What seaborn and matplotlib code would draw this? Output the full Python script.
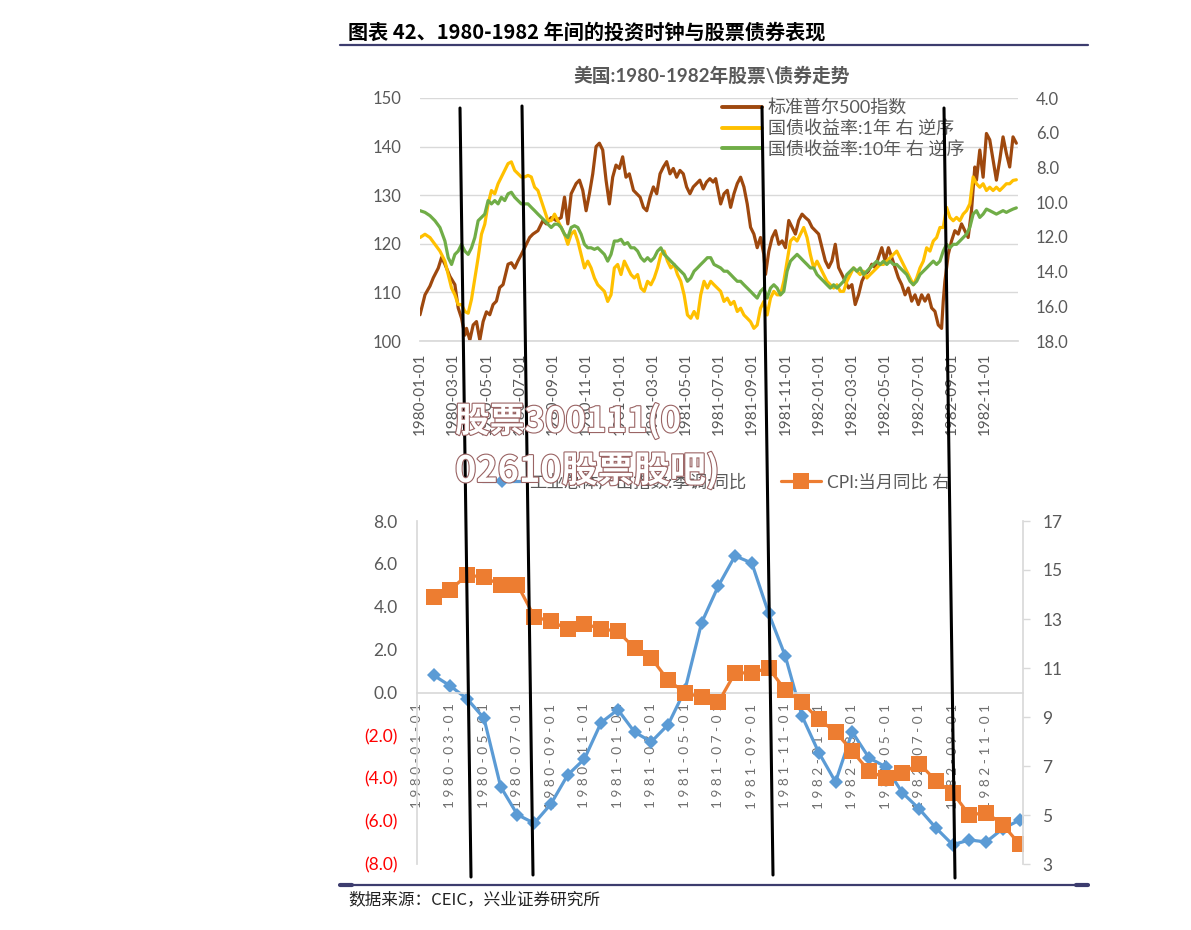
import numpy as np
import pandas as pd
import matplotlib
matplotlib.use("Agg")
import matplotlib.pyplot as plt
import matplotlib.patheffects as pe
from matplotlib.lines import Line2D
import seaborn as sns

# ---------------- data ----------------
date_labels = ["1980-01-01", "1980-03-01", "1980-05-01", "1980-07-01", "1980-09-01", "1980-11-01",
               "1981-01-01", "1981-03-01", "1981-05-01", "1981-07-01", "1981-09-01", "1981-11-01",
               "1982-01-01", "1982-03-01", "1982-05-01", "1982-07-01", "1982-09-01", "1982-11-01"]

# S&P 500 (months since 1980-01-01, index level)
sp_t = [0.0, 0.3, 0.6, 0.8, 1.1, 1.3, 1.5, 1.8, 2.1, 2.3, 2.5, 2.7, 2.8, 3.0, 3.2, 3.4, 3.6, 3.8, 4.0, 4.2,
        4.4, 4.6, 4.8, 5.0, 5.3, 5.5, 5.7, 5.9, 6.1, 6.4, 6.6, 6.8, 7.1, 7.4, 7.6, 7.9, 8.2, 8.5, 8.7, 8.9,
        9.1, 9.4, 9.6, 9.8, 10.0, 10.2, 10.4, 10.6, 10.8, 11.0, 11.2, 11.4, 11.6, 11.8, 12.0, 12.2, 12.4, 12.6, 12.85, 13.05,
        13.25, 13.45, 13.65, 13.85, 14.05, 14.25, 14.45, 14.65, 14.85, 15.05, 15.25, 15.45, 15.65, 15.85, 16.05, 16.25, 16.45, 16.65, 16.85, 17.05,
        17.25, 17.45, 17.65,
        17.8, 18.1, 18.3, 18.5, 18.7, 18.9, 19.1, 19.3, 19.5, 19.7, 19.9, 20.1, 20.3, 20.5, 20.7, 20.8, 21.0, 21.2, 21.4, 21.6,
        21.8, 22.0, 22.2, 22.4, 22.6, 22.8, 23.0, 23.2, 23.4, 23.6, 23.8, 24.0, 24.2, 24.4, 24.6, 24.8, 25.0, 25.2, 25.4, 25.6,
        25.8, 26.0, 26.2, 26.4, 26.6, 26.8, 27.0, 27.2, 27.4, 27.6, 27.8, 28.0, 28.2, 28.4, 28.6, 28.8, 29.0, 29.2, 29.4, 29.6,
        29.8, 30.0, 30.2, 30.4, 30.6, 30.8, 31.0, 31.2, 31.4, 31.5, 31.6, 31.8, 32.0, 32.2, 32.4, 32.6, 32.8, 33.0, 33.2, 33.4,
        33.5, 33.7, 33.9, 34.1, 34.3, 34.5, 34.7, 34.9, 35.1, 35.3, 35.5, 35.7, 35.9]
sp_v = [105.4, 109.5, 111.3, 113.0, 115.0, 117.2, 115.8, 113.3, 111.6, 106.8, 104.7, 101.2, 102.6, 100.2, 103.3, 104.0, 100.2, 104.0, 106.0, 105.4,
        107.5, 108.2, 111.0, 111.6, 115.8, 116.1, 115.0, 116.5, 117.8, 119.9, 121.3, 122.0, 122.7, 124.8, 124.1, 125.4, 124.8, 125.4, 129.6, 124.1,
        130.3, 132.4, 133.1, 131.0, 126.8, 130.3, 134.4, 140.0, 140.7, 139.3, 133.1, 128.2, 133.7, 136.2, 135.5, 137.9, 133.7, 134.4, 131.0, 130.3,
        129.6, 127.5, 126.8, 129.6, 131.7, 130.3, 134.4, 135.8, 136.9, 134.4, 135.5, 133.7, 135.1, 134.4, 131.7, 130.3, 131.7, 132.4, 133.1, 131.3,
        132.7, 133.4, 132.7,
        133.4, 128.2, 130.3, 131.0, 127.5, 130.3, 132.4, 133.7, 131.7, 128.2, 123.4, 122.0, 119.2, 121.3, 117.8, 113.7, 118.5, 121.3, 122.7, 119.9,
        120.6, 119.2, 124.8, 123.4, 122.0, 124.8, 126.1, 125.4, 124.8, 123.4, 122.7, 122.0, 119.2, 116.5, 115.1, 116.5, 119.9, 115.1, 113.7, 112.3,
        110.9, 111.6, 107.5, 109.5, 112.3, 113.7, 114.4, 115.8, 115.1, 117.2, 119.2, 116.5, 119.2, 117.2, 115.1, 113.0, 111.6, 109.5, 110.9, 108.2,
        109.5, 107.5, 109.5, 108.2, 109.5, 106.8, 106.1, 103.3, 102.6, 108.2, 112.3, 117.8, 120.6, 122.7, 122.0, 124.1, 122.7, 121.3, 126.8, 135.8,
        133.1, 139.3, 133.7, 142.7, 141.4, 137.2, 133.1, 137.2, 142.0, 138.6, 135.8, 142.0, 140.7]

# Treasury yields sampling dates (months since 1980-01-01)
yld_t = ([0.0, 0.3, 0.6, 0.9, 1.2, 1.5]
         + [round(1.7 + 0.2 * k, 1) for k in range(81)]
         + [round(18.1 + 0.2 * k, 1) for k in range(90)])
y1_v = [12.04, 11.85, 12.04, 12.43, 12.82, 13.4,
        14.17, 14.95, 15.34, 15.9, 15.9, 16.3, 16.4, 15.6, 14.4, 13.2, 11.85, 11.27, 10.1, 9.33,
        9.52, 8.94, 8.55, 8.17, 7.78, 7.68, 8.17, 8.36, 8.55, 8.55, 8.46, 8.55, 9.14, 9.33, 9.91,
        10.49, 11.07, 11.07, 10.69, 11.07, 11.46, 11.85, 12.43, 11.85, 11.66, 12.24, 13.01, 13.79, 13.4, 13.79,
        14.37, 14.76, 14.95, 15.14, 15.72, 15.34, 13.79, 13.59, 14.17, 13.4, 13.79, 14.17, 14.37, 14.17, 14.95,
        15.14, 14.56, 14.76, 14.37, 13.79, 13.01, 12.82, 13.4, 13.79, 13.59, 14.17, 14.56, 15.34, 16.5, 16.69,
        16.3, 16.69, 15.34, 14.56, 14.95, 14.56, 14.76,
        15.14, 15.72, 15.53, 15.9, 15.72, 16.3, 16.11, 16.5, 16.69, 16.89, 17.27, 17.08, 16.11, 15.72, 16.5,
        15.53, 15.14, 15.34, 15.34, 14.56, 13.4, 12.24, 12.04, 12.24, 11.85, 11.46, 12.04, 13.01, 13.79, 13.4,
        13.79, 14.17, 14.56, 14.76, 14.95, 14.76, 15.14, 15.14, 14.56, 14.17, 13.79, 13.98, 14.17, 13.98, 14.37,
        14.17, 13.98, 13.79, 13.59, 13.59, 13.4, 13.2, 13.01, 12.82, 13.2, 13.59, 13.98, 14.37, 14.76, 14.37,
        13.79, 13.4, 12.63, 12.82, 12.24, 12.04, 11.46, 11.46, 10.3, 10.88, 11.07, 10.88, 11.07, 10.69, 10.49,
        10.1, 8.55, 8.94, 9.14, 8.94, 9.33, 9.14, 9.33, 9.14, 9.33, 9.14, 8.94, 8.94, 8.75, 8.71]
y10_v = [10.49, 10.59, 10.78, 11.07, 11.46, 12.24,
         13.2, 13.59, 13.01, 12.82, 12.43, 12.82, 13.01, 12.63, 12.04, 11.07, 10.88, 10.69, 9.91, 10.1,
         9.91, 10.1, 9.72, 9.91, 9.52, 9.43, 9.72, 9.91, 10.1, 10.1, 10.1, 10.3, 10.49, 10.69, 10.88,
         11.07, 11.27, 11.46, 11.27, 11.27, 11.46, 11.85, 12.04, 11.46, 11.36, 11.46, 11.85, 12.43, 12.63, 12.63,
         12.72, 12.63, 12.82, 13.01, 13.4, 13.01, 12.24, 12.24, 12.14, 12.43, 12.33, 12.63, 12.63, 12.82, 13.2,
         13.4, 13.2, 13.4, 13.2, 12.82, 12.63, 13.01, 13.2, 13.4, 13.59, 13.79, 13.98, 14.17, 14.56, 14.37,
         13.98, 13.79, 13.59, 13.4, 13.2, 13.2, 13.59,
         13.79, 13.98, 13.98, 14.17, 14.37, 14.56, 14.56, 14.76, 14.95, 15.14, 15.34, 15.53, 15.14, 14.95, 15.53,
         14.95, 14.76, 14.95, 15.34, 15.14, 13.98, 13.4, 13.2, 13.01, 13.2, 13.4, 13.59, 13.79, 13.79, 14.17,
         14.37, 14.56, 14.76, 14.95, 14.76, 14.95, 14.76, 14.56, 14.17, 13.98, 13.79, 13.98, 13.79, 14.17, 13.98,
         13.79, 13.59, 13.4, 13.59, 13.4, 13.59, 13.4, 13.59, 13.59, 13.79, 13.98, 14.17, 14.56, 14.76, 14.56,
         14.17, 13.98, 13.79, 13.59, 13.4, 13.59, 13.4, 12.82, 12.43, 12.63, 12.43, 12.43, 12.24, 12.04, 11.85,
         11.46, 10.69, 10.49, 10.88, 10.69, 10.4, 10.49, 10.59, 10.69, 10.59, 10.49, 10.59, 10.49, 10.4, 10.33]

# Monthly macro data 1980-01 .. 1982-12
months = pd.period_range("1980-01", "1982-12", freq="M").astype(str).tolist()
ip_yoy = [0.8, 0.3, -0.3, -1.2, -4.4, -5.7, -6.1, -5.2, -3.85, -3.1, -1.4, -0.8,
          -1.85, -2.3, -1.5, 0.1, 3.25, 4.97, 6.37, 6.04, 3.71, 1.7, -1.1, -2.8,
          -4.17, -1.84, -3.05, -3.47, -4.68, -5.43, -6.32, -7.1, -6.88, -6.97, -6.35, -5.95]
cpi_yoy = [13.9, 14.2, 14.8, 14.7, 14.4, 14.4, 13.1, 12.9, 12.6, 12.8, 12.6, 12.5,
           11.8, 11.4, 10.5, 10.0, 9.8, 9.6, 10.8, 10.8, 11.0, 10.1, 9.6, 8.9,
           8.4, 7.6, 6.8, 6.5, 6.7, 7.1, 6.4, 5.9, 5.0, 5.1, 4.6, 3.8]

# hand-drawn phase divider lines (figure pixels: x_top, y_top, x_bottom, y_bottom)
phase_lines = [(460, 108, 471, 877), (522, 106, 533, 875), (762, 107, 773, 875), (944, 108, 955, 878)]

# ---------------- style ----------------
sns.set_theme(style="white")
plt.rcParams["font.family"] = ["Lato", "Noto Sans CJK SC", "DejaVu Sans"]
plt.rcParams["axes.unicode_minus"] = False

W, H = 1191, 930
fig = plt.figure(figsize=(W / 100, H / 100), dpi=100)
fig.patch.set_facecolor("white")


def fx(px):
    return px / W


def fy(py):
    return 1 - py / H


GRAY = "#595959"
GRID = "#D9D9D9"
NAVY = "#3C3C6E"
C_SP, C_1Y, C_10Y = "#9E480E", "#FFC000", "#70AD47"
C_IP, C_CPI = "#5B9BD5", "#ED7D31"

# header / footer
fig.text(fx(348), fy(32), "图表 42、1980-1982 年间的投资时钟与股票债券表现", fontsize=14.5,
         fontweight="bold", color="black", va="center", ha="left",
         family=["Noto Sans CJK SC", "DejaVu Sans"])
fig.add_artist(Line2D([fx(340), fx(1088)], [fy(45), fy(45)], color=NAVY, lw=1.6,
                      transform=fig.transFigure))
fig.add_artist(Line2D([fx(340), fx(1088)], [fy(885), fy(885)], color=NAVY, lw=1.6,
                      transform=fig.transFigure))
for xa, xb in [(340, 352), (1076, 1088)]:
    fig.add_artist(Line2D([fx(xa), fx(xb)], [fy(885), fy(885)], color=NAVY, lw=3,
                          transform=fig.transFigure))
fig.text(fx(348), fy(900), "数据来源：CEIC，兴业证券研究所", fontsize=12, color="#222222",
         va="center", ha="left", family=["Noto Sans CJK SC", "DejaVu Sans"])

# ---------------- upper chart ----------------
ax1 = fig.add_axes([fx(420), fy(341), fx(1018) - fx(420), fy(98) - fy(341)])
ax1b = ax1.twinx()
sns.lineplot(x=sp_t, y=sp_v, ax=ax1, color=C_SP, lw=2.3, estimator=None, sort=False)
sns.lineplot(x=yld_t, y=y1_v, ax=ax1b, color=C_1Y, lw=2.3, estimator=None, sort=False)
sns.lineplot(x=yld_t, y=y10_v, ax=ax1b, color=C_10Y, lw=2.3, estimator=None, sort=False)

ax1.set_xlim(0, 36)
ax1.set_ylim(100, 150)
ax1b.set_ylim(18, 4)
ax1.set_yticks(range(100, 151, 10))
ax1b.set_yticks(range(4, 19, 2))
ax1b.set_yticklabels([f"{v:.1f}" for v in range(4, 19, 2)])
ax1.set_xticks(range(0, 37, 2))
ax1.set_xticklabels(date_labels + [""], rotation=90)
ax1.yaxis.grid(True, color=GRID, lw=1)
ax1.xaxis.grid(False)
for a in (ax1, ax1b):
    for s in ("top", "left", "right"):
        a.spines[s].set_visible(False)
    a.set_xlabel("")
    a.set_ylabel("")
ax1b.spines["bottom"].set_visible(False)
ax1.spines["bottom"].set_color(GRID)
ax1.tick_params(axis="y", length=0, pad=13, labelsize=12, labelcolor=GRAY)
ax1b.tick_params(axis="y", length=0, pad=13, labelsize=12, labelcolor=GRAY)
ax1.tick_params(axis="x", length=5, width=1, color=GRID, direction="out", pad=3,
                labelsize=11, labelcolor=GRAY)

fig.text(fx(712), fy(75), "美国:1980-1982年股票\\债券走势", fontsize=13.5, fontweight="bold",
         color=GRAY, ha="center", va="center")

h_up = [Line2D([], [], color=C_SP, lw=2.8), Line2D([], [], color=C_1Y, lw=2.8),
        Line2D([], [], color=C_10Y, lw=2.8)]
fig.legend(h_up, ["标准普尔500指数", "国债收益率:1年 右 逆序", "国债收益率:10年 右 逆序"],
           loc="upper left", bbox_to_anchor=(fx(722), fy(99)), frameon=False, fontsize=13,
           handlelength=2.2, handletextpad=0.35, labelspacing=0.22, borderpad=0,
           borderaxespad=0, labelcolor=GRAY)

# ---------------- lower chart ----------------
ax2 = fig.add_axes([fx(417), fy(864), fx(1023) - fx(417), fy(521) - fy(864)])
ax2b = ax2.twinx()
idx = list(range(len(months)))
sns.lineplot(x=idx, y=ip_yoy, ax=ax2, color=C_IP, lw=2.3, marker="D", markersize=7.5,
             markeredgewidth=0, estimator=None)
sns.lineplot(x=idx, y=cpi_yoy, ax=ax2b, color=C_CPI, lw=2.3, marker="s", markersize=11,
             markeredgewidth=0, estimator=None)

# spine placement first (it resets tick label styling)
ax2.spines["bottom"].set_position(("data", 0))
ax2.set_xlim(-1, 35.2)
ax2.set_ylim(-8, 8)
ax2b.set_ylim(3, 17)
lt = list(range(-8, 9, 2))
ax2.set_yticks(lt)
ax2.set_yticklabels([f"{v:.1f}" if v >= 0 else f"({-v:.1f})" for v in lt])
ax2b.set_yticks(range(3, 18, 2))
ax2.set_xticks(range(-1, 34, 2))
ax2.set_xticklabels([" ".join(list(s)) for s in date_labels], rotation=90)
ax2.grid(False)
ax2b.grid(False)
for a in (ax2, ax2b):
    a.spines["top"].set_visible(False)
    a.set_xlabel("")
    a.set_ylabel("")
ax2.spines["right"].set_visible(False)
ax2b.spines["left"].set_visible(False)
ax2b.spines["bottom"].set_visible(False)
ax2.spines["left"].set_color(GRID)
ax2.spines["bottom"].set_color(GRID)
ax2b.spines["right"].set_color(GRID)
ax2.tick_params(axis="y", length=0, pad=14, labelsize=12.5)
ax2b.tick_params(axis="y", length=5, width=1, color=GRID, direction="out", pad=9,
                 labelsize=12.5, labelcolor=GRAY)
ax2.tick_params(axis="x", length=5, width=1, color="#BFBFBF", direction="out", pad=3,
                labelsize=9.8, labelcolor="#6F6F6F", labelrotation=90)
for v, lab in zip(lt, ax2.get_yticklabels()):
    lab.set_color("#FF0000" if v < 0 else GRAY)

h_lo = [Line2D([], [], color=C_IP, lw=2.3, marker="D", markersize=7.5, markeredgewidth=0),
        Line2D([], [], color=C_CPI, lw=2.3, marker="s", markersize=11, markeredgewidth=0)]
fig.legend(h_lo, ["工业总体产出指数:季调:同比", "CPI:当月同比 右"], loc="center",
           bbox_to_anchor=(fx(716), fy(482)), ncol=2, frameon=False, fontsize=12.5,
           handlelength=2.3, handletextpad=0.4, columnspacing=2.0, labelcolor=GRAY)

# phase divider lines
for x0, y0, x1, y1 in phase_lines:
    fig.add_artist(Line2D([fx(x0), fx(x1)], [fy(y0), fy(y1)], color="black", lw=2.2,
                          transform=fig.transFigure, zorder=20))

# watermark (outlined text)
wm_fx = [pe.Stroke(linewidth=1.6, foreground="#9A6464"), pe.Normal()]
fig.text(fx(455), fy(421), "股票300111(0", fontsize=25, fontweight="bold", color="white",
         ha="left", va="center", path_effects=wm_fx, zorder=30,
         family=["Noto Sans CJK SC", "DejaVu Sans"])
fig.text(fx(455), fy(471), "02610股票股吧)", fontsize=26, fontweight="bold", color="white",
         ha="left", va="center", path_effects=wm_fx, zorder=30,
         family=["Noto Sans CJK SC", "DejaVu Sans"])

fig.savefig("out.png", dpi=100, facecolor="white")
